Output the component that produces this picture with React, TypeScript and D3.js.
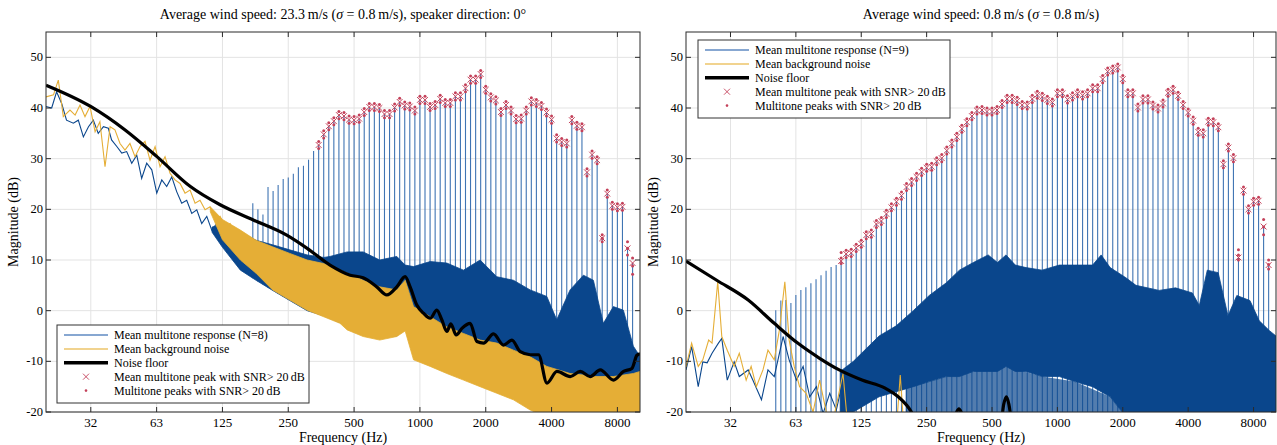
import React from 'react';
import * as d3 from 'd3';

type Pt = [number, number];
type Band = [number, number, number];

// multitone tone frequencies (Hz), shared by both measurements
const toneHz = [
  50.5, 53.3, 56.2, 59.3, 62.5, 65.9, 69.5, 73.3, 77.4, 81.6, 86.1, 90.8, 95.8,
  101.0, 106.5, 112.4, 118.5, 125, 131.8, 139.1, 146.7, 154.7, 163.2, 172.1, 181.6,
  191.5, 202.0, 213.1, 224.7, 237.0, 250, 263.7, 278.1, 293.4, 309.5, 326.4, 344.3,
  363.1, 383.0, 404.0, 426.1, 449.5, 474.1, 500, 527.4, 556.3, 586.8, 618.9, 652.8,
  688.6, 726.3, 766.0, 808.0, 852.2, 898.9, 948.2, 1000, 1055, 1113, 1174, 1238,
  1306, 1377, 1453, 1532, 1616, 1704, 1798, 1896, 2000, 2110, 2225, 2347, 2476,
  2611, 2754, 2905, 3064, 3232, 3409, 3596, 3793, 4000, 4219, 4450, 4694, 4951,
  5222, 5508, 5810, 6128, 6464, 6818, 7191, 7585, 8000, 8438, 8900, 9388,
];

// peak level of each tone (dB), null = buried in the noise
const leftPeakDb: (number | null)[] = [
  null, null, null, null, null, null, null, null, null, null, null, null, null,
  null, null, null, null, null, null, null, null, null, null, 21.2, 20.0,
  19.0, 24.4, 23.6, 24.8, 26.0, 26.3, 27.0, 28.3, 28.6, 29.8, 31.5, 32.7,
  34.8, 36.4, 37.4, 38.6, 38.4, 37.7, 37.6, 37.9, 39.2, 40.2, 40.2, 40.0,
  38.8, 38.8, 40.1, 41.2, 40.5, 40.3, 39.5, 41.6, 41.6, 40.2, 40.6, 41.8,
  41.0, 41.0, 42.3, 42.3, 43.9, 45.6, 45.6, 46.7, 43.6, 42.1, 41.5, 39.2, 40.6,
  39.5, 37.8, 37.9, 39.5, 41.3, 41.0, 40.4, 39.1, 37.7, 34.0, 33.3, 33.0,
  37.6, 36.5, 36.2, 27.3, 30.8, 29.7, 14.3, 23.1, 20.7, 20.4, 20.5, 12.3, 9.4,
];

const rightPeakDb: (number | null)[] = [
  0.1, 2.0, 2.1, 1.5, 3.1, 4.1, 4.6, 5.4, 6.2, 7.0, 7.9, 8.6, 9.0,
  9.8, 11.2, 11.4, 12.4, 13.2, 14.9, 15.2, 17.1, 17.7, 19.1, 20.4, 21.5,
  22.7, 24.4, 25.4, 26.4, 27.4, 28.2, 28.4, 29.5, 30.1, 31.6, 33.0, 34.3,
  35.9, 37.2, 38.4, 39.5, 39.6, 39.3, 39.3, 39.6, 40.8, 41.8, 41.8, 41.4,
  40.6, 40.5, 41.8, 42.6, 42.2, 41.6, 41.1, 42.9, 42.9, 41.7, 42.3, 42.9,
  42.5, 42.9, 43.9, 43.9, 45.7, 47.2, 47.6, 48.0, 45.7, 42.9, 42.9, 40.1, 41.7,
  41.7, 40.5, 39.9, 40.9, 43.0, 43.6, 42.4, 40.6, 39.1, 37.5, 35.3, 35.0,
  37.3, 37.2, 36.2, 28.9, 32.2, 30.1, 10.5, 23.7, 20.0, 21.5, 21.7, 16.6, 9.0,
];

// lowest tone with SNR > 20 dB
const leftFirstMarkedHz = 344.3;
const rightFirstMarkedHz = 101.0;

// spread of the individual peaks where it is visible [Hz, min dB, max dB]
const leftDotRange: Band[] = [[6818, 13.6, 15.0], [8900, 11.0, 13.6], [9388, 7.2, 10.4]];
const rightDotRange: Band[] = [[101.0, 9.3, 11.5], [6818, 10, 12], [8900, 15, 18], [9388, 8.2, 10]];

// low-frequency spectra, left (23.3 m/s)
const leftBlueLine: Pt[] = [
  [19.5, 40.3], [20.7, 40], [21.8, 43.2], [23, 40.9], [24.2, 37.6], [26, 37], [27.4, 37.6],
  [28.9, 34.3], [30.5, 36.3], [32.1, 37.6], [33.8, 35], [35.7, 36.3], [37.6, 36], [38.9, 33.7],
  [41.1, 32.4], [43.3, 31.1], [45.6, 31.4], [48.1, 29.1], [50.7, 30.7], [53.4, 26.1], [56.3, 29.1],
  [59.4, 27.8], [62.6, 23.2], [66, 25.8], [69.5, 24.5], [73.3, 26.4], [77.2, 23.5], [81.4, 21.2],
  [85.8, 21.8], [90.5, 19.2], [95.4, 19.9], [100.5, 17.2], [106, 18.6], [111.7, 15.9],
  [117.7, 17.2], [124.1, 15.3], [130.8, 15.9], [137.9, 13.6], [145.4, 14.6], [153.2, 12.6],
];
const leftYellowLine: Pt[] = [
  [19.5, 42.2], [21.1, 42.6], [22.2, 45.5], [23.4, 38.3], [25.1, 39.6], [26.5, 38.6], [27.9, 40.6],
  [29.4, 38.3], [31, 40.3], [32.7, 35.3], [34.4, 37.3], [36.3, 28.4], [38.3, 36.3], [40.3, 35.7],
  [42.5, 33], [44.8, 31.7], [47.2, 33], [49.8, 30.4], [52.5, 32.4], [55.3, 33.4], [58.3, 29.7],
  [61.5, 32.4], [64.8, 28.4], [68.3, 30.4], [72, 27.1], [75.9, 25.8], [80, 25.1], [84.3, 23.2],
  [88.9, 23.8], [93.7, 21.2], [98.7, 21.8], [104.1, 19.9], [109.7, 20.5], [115.7, 17.9],
  [121.9, 18.6], [128.5, 16.6], [135.5, 17.2], [142.8, 14.6], [150.5, 15.3],
];
// dense noise envelopes [Hz, low dB, high dB]
const leftBlueBand: Band[] = [
  [112, 15.5, 16.5], [125, 12.5, 17], [151, 8, 15.5], [178, 6, 13.9], [212, 4, 13], [254, 2, 12],
  [305, 0, 11], [363, -1, 10.5], [388, -1.5, 10.7], [465, -3, 11.6], [550, -4, 11.6],
  [655, -5, 10], [784, -5, 10.7], [856, -3, 9], [935, -6, 8.7], [1114, -8, 9.7], [1327, -10, 9.4],
  [1582, -12, 8], [1885, -13, 10], [2247, -15, 6.7], [2678, -16, 6], [3192, -18, 4.1],
  [3804, -20, 2.8], [4223, -21, -1.8], [4860, -21, 4.1], [5594, -21, 7], [6213, -21, 6],
  [6900, -21, -2.5], [7670, -21, 0.8], [8520, -21, 0.1], [9460, -21, -7], [10150, -21, -9],
];
const leftYellowBand: Band[] = [
  [110, 19.5, 20.5], [125, 14, 18], [151, 10, 15.9], [178, 7.4, 13.9], [212, 4.1, 12.6],
  [254, 2.1, 11.3], [305, 0.1, 10], [363, -1.2, 9.3], [431, -2.5, 8], [465, -3.8, 7.4],
  [550, -5.1, 6], [655, -5.8, 4.7], [784, -5.1, 4.1], [856, -4, 6], [935, -9.7, 0.8],
  [1114, -11, -1.2], [1327, -12.4, -3.2], [1582, -13.7, -4.5], [1885, -15, -5.8],
  [2247, -16.3, -6.4], [2678, -17.6, -7.8], [3192, -19.6, -9.1], [3804, -21, -11],
  [4860, -21, -12.4], [5594, -21, -12.7], [6213, -21, -13], [7670, -21, -13],
  [9460, -21, -12.4], [10150, -21, -12],
];
const leftFloor: Pt[] = [
  [19.5, 44.5], [31.2, 40.3], [44.7, 35.7], [62.7, 30.4], [89.2, 24.5], [122, 20.9], [173, 17.9],
  [246, 14.9], [305, 12.3], [388, 9], [480, 7], [550, 6.5], [635, 4.7], [706, 3.1], [784, 4.7],
  [856, 6.7], [902, 4.7], [968, 1.1], [1038, -0.5], [1114, -1.5], [1195, 0.1], [1259, -1.8],
  [1328, -4.1], [1385, -2.6], [1465, -4.8], [1556, -3.5], [1698, -2.5], [1822, -6.1],
  [1954, -6.4], [2170, -4.6], [2411, -6.8], [2635, -5.8], [2876, -8.1], [3195, -8.7],
  [3487, -8.7], [3809, -14.3], [4233, -12], [4870, -13], [5411, -12], [6007, -13],
  [6679, -11.7], [7683, -13.7], [8535, -12], [9321, -11.4], [9828, -8.8], [10150, -8.5],
];

// right (0.8 m/s)
const rightBlueLine: Pt[] = [
  [19.5, -11.7], [20.7, -7.1], [22.2, -15], [23.3, -10.1], [24.4, -10.3], [25.7, -8.4],
  [27.5, -6.4], [28.5, -5.5], [30.2, -13.7], [32.5, -10.1], [34.3, -13], [37.7, -11.7],
  [39.6, -13.7], [43.4, -17.6], [46.5, -11.7], [49.7, -13], [54.6, -5.1], [58.2, -9.7],
  [62.9, -13.7], [67.5, -11], [72.4, -17], [77.7, -15], [83.4, -20.3], [89.5, -16.3],
  [96, -19.6], [103, -13.7], [110.6, -17.6],
];
const rightYellowLine: Pt[] = [
  [19.5, -11.1], [20.7, -6.4], [22.2, -11], [23.3, -9.7], [24.8, -5.8], [25.7, -6.4], [27.3, 5.7],
  [28.5, -5.1], [30.2, -7.8], [32.5, -11], [34.3, -8.4], [36.9, -13.7], [38.9, -11], [41.1, -15],
  [44.1, -11.7], [46.5, -7.8], [49.7, -9.7], [52.5, -3.8], [55.6, 5.7], [58.2, -5.8], [61.4, -11],
  [65, -15], [69.7, -16.3], [75, -20], [80.4, -13.7], [86.3, -20], [90.5, -24], [103, -12.4],
  [109, -24], [150, -26], [181, -24], [189, -12.7], [197, -24], [230, -26],
];
const rightBlueBand: Band[] = [
  [100, -21, -12], [115, -20, -10], [151, -17, -5], [181, -16, -3], [217, -15, 0],
  [257, -14, 3], [308, -13, 5.5], [354, -13, 8], [410, -12, 9.5], [480, -12, 11],
  [530, -12, 9.5], [580, -11, 11], [640, -12, 9], [717, -12, 8.5], [850, -13, 8],
  [1021, -13, 9], [1200, -14, 9], [1452, -15, 9], [1590, -16, 11], [1750, -17, 8.5],
  [2067, -21, 6.5], [2300, -21, 5], [2941, -21, 4], [3500, -21, 4.5], [4183, -21, 3.5],
  [4500, -21, 1], [4900, -21, 8], [5500, -21, 7.5], [6100, -21, -1], [6700, -21, 3],
  [7700, -21, 2], [8500, -21, -2], [9500, -21, -4], [10150, -21, -5],
];
// thinner noise below the dense part (right) [Hz, low dB, high dB]
const rightSparseBand: Band[] = [
  [200, -21, -15], [257, -21, -14], [308, -21, -13], [410, -21, -12], [580, -21, -11],
  [850, -21, -13], [1200, -21, -14], [1750, -21, -17], [2067, -21, -21],
];
const rightFloor: Pt[] = [
  [19.5, 9.8], [27, 6], [37.7, 2.1], [49.7, -2.5], [63.7, -6.4], [80.4, -9.4], [99, -11.7],
  [126, -13.7], [161, -15.3], [185, -17], [212, -19.9], [235, -24], [320, -25], [340, -20.5],
  [352, -19.4], [364, -20.5], [385, -25], [540, -25], [566, -18.5], [582, -17], [598, -18.5],
  [625, -25],
];

const freqTicks = [31.25, 62.5, 125, 250, 500, 1000, 2000, 4000, 8000];
const freqTickLabels = ['32', '63', '125', '250', '500', '1000', '2000', '4000', '8000'];
const dbTicks = [-20, -10, 0, 10, 20, 30, 40, 50];

const FONT = 'Liberation Serif, DejaVu Serif, Noto Serif, serif';
const BLUE = '#0a468c';
const STEM = '#3f74b3';
const YELLOW = '#e5ae36';
const RED = '#c4415a';
const TOP = 32;
const BOTTOM = 412;

interface PanelProps {
  id: string;
  x0: number;
  x1: number;
  title: React.ReactNode;
  peaks: (number | null)[];
  firstMarkedHz: number;
  dotRange: Band[];
  blueLine: Pt[];
  blueBand: Band[];
  sparseBand?: Band[];
  yellowLine: Pt[];
  yellowBand?: Band[];
  floor: Pt[];
  stemsToFloor: boolean;
  legend: { x: number; y: number; n: number };
}

function Panel(p: PanelProps) {
  const x = d3.scaleLog().base(2).domain([19.5, 10150]).range([p.x0, p.x1]);
  const y = d3.scaleLinear().domain([-20, 55]).range([BOTTOM, TOP]);
  const line = d3.line<Pt>().x(d => x(d[0])).y(d => y(d[1]));
  const smooth = d3.line<Pt>().x(d => x(d[0])).y(d => y(d[1])).curve(d3.curveMonotoneX);
  const area = d3.area<Band>().x(d => x(d[0])).y0(d => y(d[1])).y1(d => y(d[2]));
  const stemBase = d3.scaleLog()
    .domain(p.blueBand.map(d => d[0]))
    .range(p.blueBand.map(d => d[1]))
    .clamp(true);

  const stems = toneHz.map((f, i) => ({ f, v: p.peaks[i] })).filter(d => d.v != null) as { f: number; v: number }[];
  const marked = stems.filter(d => d.f >= p.firstMarkedHz - 0.5);
  const s = 2.9;
  const cx = (p.x0 + p.x1) / 2;
  const lg = p.legend;
  const rows = [0, 1, 2, 3, 4].map(i => lg.y + 10 + i * 13.9);
  const legendText = [
    `Mean multitone response (N=${lg.n})`,
    'Mean background noise',
    'Noise floor',
    'Mean multitone peak with SNR> 20\u2009dB',
    'Multitone peaks with SNR> 20\u2009dB',
  ];

  return (
    <g style={{ fontFamily: FONT }}>
      <defs>
        <clipPath id={`clip-${p.id}`}>
          <rect x={p.x0} y={TOP} width={p.x1 - p.x0} height={BOTTOM - TOP} />
        </clipPath>
      </defs>
      <text x={cx} y={19} textAnchor="middle" fontSize={14}>{p.title}</text>
      {/* grid */}
      {freqTicks.map(t => (
        <line key={`gx${t}`} x1={x(t)} x2={x(t)} y1={TOP} y2={BOTTOM} stroke="#e3e3e3" />
      ))}
      {dbTicks.map(t => (
        <line key={`gy${t}`} x1={p.x0} x2={p.x1} y1={y(t)} y2={y(t)} stroke="#e3e3e3" />
      ))}
      <g clipPath={`url(#clip-${p.id})`}>
        {stems.map(d => (
          <line key={`st${d.f}`} x1={x(d.f)} x2={x(d.f)}
            y1={y(p.stemsToFloor ? -22 : stemBase(d.f))} y2={y(d.v)}
            stroke={STEM} strokeWidth={1.1} />
        ))}
        <path d={line(p.blueLine) || ''} fill="none" stroke={BLUE} strokeWidth={1.1} />
        {p.sparseBand && (
          <path d={area(p.sparseBand) || ''} fill={BLUE} fillOpacity={0.7} stroke="none" />
        )}
        <path d={area(p.blueBand) || ''} fill={BLUE} stroke={BLUE} strokeWidth={0.8} />
        <path d={line(p.yellowLine) || ''} fill="none" stroke={YELLOW} strokeWidth={1.1} />
        {p.yellowBand && (
          <path d={area(p.yellowBand) || ''} fill={YELLOW} stroke={YELLOW} strokeWidth={0.8} />
        )}
        <path d={smooth(p.floor) || ''} fill="none" stroke="#000" strokeWidth={3.2} strokeLinejoin="round" />
        {marked.map(d => {
          const r = p.dotRange.find(q => Math.abs(q[0] - d.f) / d.f < 0.01);
          const dots = r ? [r[1], (r[1] + r[2]) / 2, r[2]] : [d.v - 0.7, d.v + 0.7];
          const px = x(d.f);
          const py = y(d.v);
          return (
            <g key={`mk${d.f}`}>
              {dots.map((v, j) => (
                <circle key={j} cx={px} cy={y(v)} r={1.5} fill={RED} />
              ))}
              <path d={`M${px - s},${py - s}L${px + s},${py + s}M${px - s},${py + s}L${px + s},${py - s}`}
                stroke={RED} strokeWidth={1} fill="none" />
            </g>
          );
        })}
      </g>
      {/* axes box & ticks */}
      <rect x={p.x0} y={TOP} width={p.x1 - p.x0} height={BOTTOM - TOP} fill="none" stroke="#2b2b2b" strokeWidth={1} />
      {freqTicks.map((t, i) => (
        <g key={`tx${t}`}>
          <line x1={x(t)} x2={x(t)} y1={BOTTOM} y2={BOTTOM - 5} stroke="#2b2b2b" />
          <line x1={x(t)} x2={x(t)} y1={TOP} y2={TOP + 5} stroke="#2b2b2b" />
          <text x={x(t)} y={BOTTOM + 15} textAnchor="middle" fontSize={13}>{freqTickLabels[i]}</text>
        </g>
      ))}
      {dbTicks.map(t => (
        <g key={`ty${t}`}>
          <line x1={p.x0} x2={p.x0 + 5} y1={y(t)} y2={y(t)} stroke="#2b2b2b" />
          <line x1={p.x1} x2={p.x1 - 5} y1={y(t)} y2={y(t)} stroke="#2b2b2b" />
          <text x={p.x0 - 3} y={y(t) + 4} textAnchor="end" fontSize={12.5}>{t < 0 ? `-${-t}` : t}</text>
        </g>
      ))}
      <text x={cx} y={442} textAnchor="middle" fontSize={14}>Frequency (Hz)</text>
      <text transform={`translate(${p.x0 - 28},${(TOP + BOTTOM) / 2}) rotate(-90)`} textAnchor="middle"
        fontSize={14}>Magnitude (dB)</text>
      {/* legend */}
      <rect x={lg.x} y={lg.y} width={252} height={78} fill="#fff" stroke="#333" strokeWidth={1} />
      <line x1={lg.x + 7} x2={lg.x + 51} y1={rows[0]} y2={rows[0]} stroke="#5f8ac2" strokeWidth={1.5} />
      <line x1={lg.x + 7} x2={lg.x + 51} y1={rows[1]} y2={rows[1]} stroke="#ecc56a" strokeWidth={1.5} />
      <line x1={lg.x + 7} x2={lg.x + 51} y1={rows[2]} y2={rows[2]} stroke="#000" strokeWidth={3.5} />
      <path d={`M${lg.x + 29 - 3},${rows[3] - 3}L${lg.x + 29 + 3},${rows[3] + 3}M${lg.x + 29 - 3},${rows[3] + 3}L${lg.x + 29 + 3},${rows[3] - 3}`}
        stroke={RED} strokeWidth={0.9} fill="none" />
      <circle cx={lg.x + 29} cy={rows[4]} r={1.3} fill={RED} />
      {legendText.map((t, i) => (
        <text key={t} x={lg.x + 57} y={rows[i] + 4} fontSize={12}>{t}</text>
      ))}
    </g>
  );
}

export default function App() {
  return (
    <svg width={1277} height={445} style={{ position: 'absolute', left: 0, top: 0, background: '#fff' }}>
      <rect width={1277} height={445} fill="#fff" />
      <Panel
        id="left" x0={46} x1={640}
        title={<>Average wind speed: 23.3{'\u2009'}m/s (<tspan fontStyle="italic">σ</tspan> = 0.8{'\u2009'}m/s), speaker direction: 0°</>}
        peaks={leftPeakDb} firstMarkedHz={leftFirstMarkedHz} dotRange={leftDotRange}
        blueLine={leftBlueLine} blueBand={leftBlueBand}
        yellowLine={leftYellowLine} yellowBand={leftYellowBand}
        floor={leftFloor} stemsToFloor={false}
        legend={{ x: 57, y: 325, n: 8 }}
      />
      <Panel
        id="right" x0={686} x1={1276}
        title={<>Average wind speed: 0.8{'\u2009'}m/s (<tspan fontStyle="italic">σ</tspan> = 0.8{'\u2009'}m/s)</>}
        peaks={rightPeakDb} firstMarkedHz={rightFirstMarkedHz} dotRange={rightDotRange}
        blueLine={rightBlueLine} blueBand={rightBlueBand} sparseBand={rightSparseBand}
        yellowLine={rightYellowLine}
        floor={rightFloor} stemsToFloor={true}
        legend={{ x: 698, y: 40, n: 9 }}
      />
    </svg>
  );
}
